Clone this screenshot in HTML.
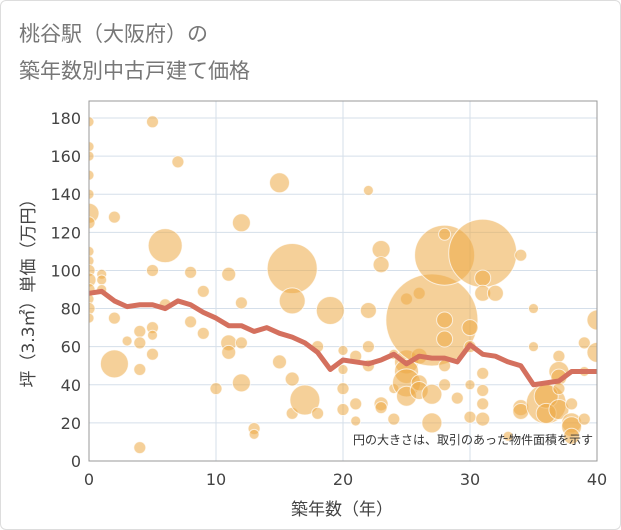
<!DOCTYPE html>
<html><head><meta charset="utf-8"><style>
body{margin:0;background:#fff;font-family:"DejaVu Sans","Noto Sans CJK JP",sans-serif}
#wrap{position:relative;width:619px;height:528px;border:1px solid #ddd;border-radius:6px;overflow:hidden}
</style></head><body>
<div id="wrap">
<svg id="svg" width="621" height="530">
<text x="18" y="40" font-size="21" fill="#777">桃谷駅（大阪府）の</text>
<text x="18" y="77" font-size="21" fill="#777">築年数別中古戸建て価格</text>
<text x="341" y="514" font-size="17" fill="#444" text-anchor="middle">築年数（年）</text>
<text transform="translate(33,288) rotate(-90)" font-size="17" fill="#444" text-anchor="middle">坪（3.3㎡）単価（万円）</text>
<defs><clipPath id="cp"><rect x="88" y="100" width="508" height="360"/></clipPath></defs>
<g id="grid"></g>
<g id="bubbles" clip-path="url(#cp)"></g>
<g id="line"></g>
<rect x="88" y="100" width="508" height="360" fill="none" stroke="#999" stroke-width="1"/>
<g id="axes"></g>
<text x="592" y="443" font-size="12" fill="#333" text-anchor="end">円の大きさは、取引のあった物件面積を示す</text>
</svg></div>
<script>
const xTicks=[0,10,20,30,40];
const yTicks=[0,20,40,60,80,100,120,140,160,180];
const lineYears=[0,1,2,3,4,5,6,7,8,9,10,11,12,13,14,15,16,17,18,19,20,21,22,23,24,25,26,27,28,29,30,31,32,33,34,35,36,37,38,39,40];
const lineValues=[88,89,84,81,82,82,80,84,82,78,75,71,71,68,70,67,65,62,57,48,53,52,51,53,56,51,55,54,54,52,61,56,55,52,50,40,41,42,47,47,47];
const bubbleYears=[0,0,0,0,0,0,0,0,0,0,0,0,0,0,0,1,1,1,2,2,2,3,4,4,4,4,5,5,5,5,5,6,6,7,8,8,9,9,10,11,11,11,12,12,12,12,13,13,15,15,16,16,16,16,17,18,18,19,20,20,20,20,21,21,21,22,22,22,22,23,23,23,23,24,24,24,25,25,25,25,25,26,26,26,26,27,27,27,28,28,28,28,28,28,29,30,30,30,30,31,31,31,31,31,31,31,32,33,34,34,34,35,35,36,36,36,37,37,37,37,37,38,38,38,38,39,39,39,40,40];
const bubblePrices=[178,165,160,150,140,130,125,110,105,100,95,90,85,80,75,98,95,90,128,75,51,63,68,62,48,7,178,100,70,66,56,113,82,157,99,73,89,67,38,98,62,57,125,83,62,41,17,14,146,52,101,84,43,25,32,60,25,79,58,48,38,27,55,30,21,142,79,60,50,111,103,30,28,56,38,22,85,52,47,41,34,88,55,41,37,74,35,20,108,119,74,64,50,40,33,70,60,40,23,109,96,88,46,37,30,22,88,13,108,28,26,80,60,30,34,25,55,47,44,38,27,20,18,13,30,62,47,22,74,57];
const bubbleSizes=[5,5,5,5,5,10,6,5,5,6,7,6,5,6,5,5,5,5,6,6,14,5,6,6,6,6,6,6,6,5,6,17,6,6,6,6,6,6,6,7,8,7,9,6,6,9,6,5,10,7,25,13,7,6,15,6,6,14,5,5,6,6,6,6,5,5,8,6,6,9,8,7,6,5,5,6,6,12,12,14,10,6,8,8,9,46,10,10,30,6,8,8,6,6,6,8,6,5,6,34,8,8,6,6,6,7,8,5,6,8,8,5,5,20,12,10,6,10,8,6,10,10,10,8,6,6,5,6,10,10];
const NS="http://www.w3.org/2000/svg";
const X0=88,X1=596,Y0=460,Y1=117;
const sx=v=>X0+(v-0)/40*(X1-X0);
const sy=v=>Y0-(v/180)*(Y0-Y1);
function mk(tag,attrs,parent){const e=document.createElementNS(NS,tag);for(const k in attrs)e.setAttribute(k,attrs[k]);parent.appendChild(e);return e;}
const grid=document.getElementById('grid'),axes=document.getElementById('axes');
yTicks.forEach(t=>{
 const l=mk('line',{x1:X0,x2:X1,y1:sy(t),y2:sy(t),stroke:'#d5dfea','stroke-width':1},grid);
 
 
 const tx=mk('text',{x:80,y:sy(t)+6,'font-size':16,fill:'#444','text-anchor':'end'},axes);
 tx.textContent=t;
 
 
});
xTicks.forEach(t=>{
 const l=mk('line',{x1:sx(t),x2:sx(t),y1:100,y2:Y0,stroke:'#d5dfea','stroke-width':1},grid);
 
 
 const tx=mk('text',{x:sx(t),y:484,'font-size':16,fill:'#444','text-anchor':'middle'},axes);
 tx.textContent=t;
 
 
});
const bg=document.getElementById('bubbles');
bubbleYears.forEach((yr,i)=>{
 const c=mk('circle',{cx:sx(yr),cy:sy(bubblePrices[i]),r:bubbleSizes[i],fill:'rgba(236,170,70,0.55)',stroke:'rgba(255,255,255,0.7)','stroke-width':1},bg);
 
 
});
const pts=lineYears.map((y,i)=>sx(y)+','+sy(lineValues[i])).join(' ');
const pl=mk('polyline',{points:pts,fill:'none',stroke:'#d4705e','stroke-width':5,'stroke-linejoin':'round'},document.getElementById('line'));


</script>
</body></html>
